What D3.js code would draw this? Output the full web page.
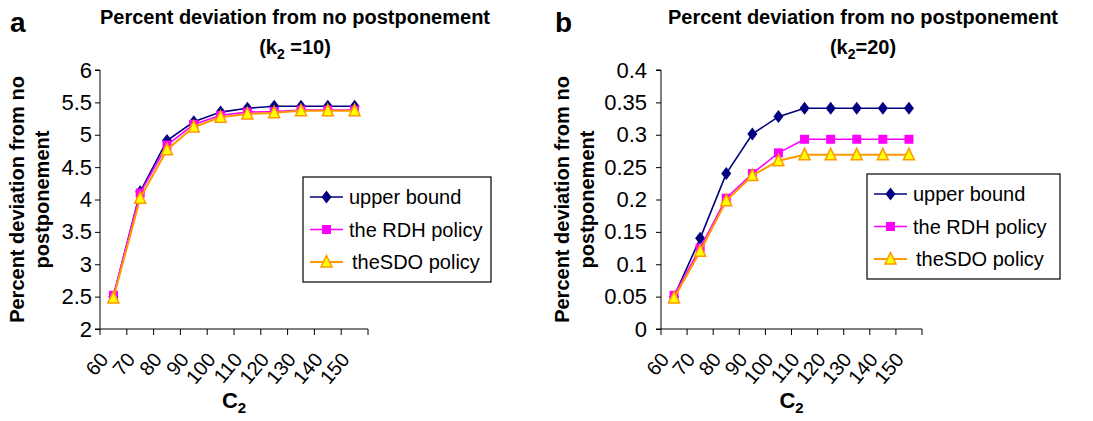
<!DOCTYPE html>
<html lang="en">
<head>
<meta charset="UTF-8">
<title>Percent deviation from no postponement</title>
<style>
  html, body { margin: 0; padding: 0; background: #fff; }
  svg text { font-family: "Liberation Sans", Arial, sans-serif; fill: #000; }
</style>
</head>
<body>
<script src="https://cdn.jsdelivr.net/npm/d3@7/dist/d3.min.js"></script>
<script>
// C2 categories on the x axis
var categories = ["60", "70", "80", "90", "100", "110", "120", "130", "140", "150"];
var seriesNames = ["upper bound", "the RDH policy", "theSDO policy"];

// panel a (k2 = 10)
var upperA = [2.50, 4.12, 4.91, 5.20, 5.35, 5.41, 5.44, 5.44, 5.44, 5.44];
var rdhA   = [2.52, 4.10, 4.84, 5.16, 5.30, 5.35, 5.36, 5.38, 5.38, 5.38];
var sdoA   = [2.48, 4.02, 4.77, 5.12, 5.27, 5.32, 5.34, 5.37, 5.37, 5.37];
var ticksA = [2, 2.5, 3, 3.5, 4, 4.5, 5, 5.5, 6];

// panel b (k2 = 20)
var upperB = [0.050, 0.140, 0.240, 0.301, 0.328, 0.341, 0.341, 0.341, 0.341, 0.341];
var rdhB   = [0.052, 0.125, 0.202, 0.240, 0.272, 0.293, 0.293, 0.293, 0.293, 0.293];
var sdoB   = [0.048, 0.120, 0.198, 0.237, 0.260, 0.269, 0.269, 0.269, 0.269, 0.269];
var ticksB = [0, 0.05, 0.1, 0.15, 0.2, 0.25, 0.3, 0.35, 0.4];

var W = 1093, H = 421;
var svg = d3.select("body").append("svg").attr("width", W).attr("height", H);

// styles of the three series
var styles = [
  { line: "#000080", width: 1.6, marker: "diamond" },
  { line: "#ff00ff", width: 1.6, marker: "square" },
  { line: "#ff9900", width: 2, marker: "triangle" }
];

function drawMarker(g, type, x, y) {
  if (type == "diamond") {
    g.append("path").attr("d", "M0,-6.5L5,0L0,6.5L-5,0Z")
      .attr("transform", "translate(" + x + "," + y + ")").attr("fill", "#000080");
  } else if (type == "square") {
    g.append("rect").attr("x", x - 4.5).attr("y", y - 4.5).attr("width", 9).attr("height", 9)
      .attr("fill", "#ff00ff");
  } else {
    g.append("path").attr("d", "M0,-6.5L5.5,5L-5.5,5Z")
      .attr("transform", "translate(" + x + "," + y + ")")
      .attr("fill", "#ffff00").attr("stroke", "#ff9900").attr("stroke-width", 1.5);
  }
}

function drawPanel(p) {
  var g = svg.append("g");
  var x = d3.scaleBand().domain(categories).range([p.x0, p.x1]);
  var y = d3.scaleLinear().domain([p.ticks[0], p.ticks[p.ticks.length - 1]]).range([p.y0, p.y1]);

  // panel letter
  g.append("text").attr("x", p.letterX).attr("y", 32)
    .style("font-size", "28px").style("font-weight", "bold").text(p.letter);

  // title, two lines
  var cx = p.titleX;
  g.append("text").attr("x", cx).attr("y", 24).attr("text-anchor", "middle")
    .style("font-size", "20px").style("font-weight", "bold")
    .text("Percent deviation from no postponement");
  var t2 = g.append("text").attr("x", cx).attr("y", 54).attr("text-anchor", "middle")
    .style("font-size", "20px").style("font-weight", "bold");
  t2.append("tspan").text("(k");
  t2.append("tspan").attr("dy", 5).style("font-size", "14px").text("2");
  t2.append("tspan").attr("dy", -5).text(p.k2);

  // y axis
  var yAxis = d3.axisLeft(y).tickValues(p.ticks).tickSize(5).tickPadding(p.pad)
    .tickFormat(function (d) { return String(d); });
  var ya = g.append("g").attr("transform", "translate(" + p.x0 + ",0)").call(yAxis);
  ya.select(".domain").attr("stroke", "#000").attr("d", "M-5," + p.y1 + "H0V" + p.y0 + "H-5");
  ya.selectAll("text").style("font-size", "22px").attr("fill", "#000")
    .style("font-family", "\"Liberation Sans\", Arial, sans-serif");

  // x axis: ticks on band edges, labels rotated
  var xa = g.append("g").attr("transform", "translate(0," + p.y0 + ")");
  xa.append("line").attr("x1", p.x0).attr("x2", p.x1).attr("stroke", "#000");
  var edges = categories.map(function (c) { return x(c); }).concat([p.x1]);
  xa.selectAll(".tk").data(edges).join("line").attr("class", "tk")
    .attr("x1", function (d) { return d; }).attr("x2", function (d) { return d; })
    .attr("y1", 0).attr("y2", 6).attr("stroke", "#000");
  xa.selectAll(".lb").data(categories).join("text").attr("class", "lb")
    .attr("text-anchor", "end").style("font-size", "20px")
    .attr("transform", function (d) {
      return "translate(" + (x(d) + x.bandwidth() / 2 - 4) + ",31) rotate(-50)";
    })
    .text(function (d) { return d; });

  // axis titles
  var yt = g.append("text").attr("transform", "translate(" + p.ytX + "," + ((p.y0 + p.y1) / 2) + ") rotate(-90)")
    .attr("text-anchor", "middle").style("font-size", "20px").style("font-weight", "bold");
  yt.append("tspan").attr("x", 0).attr("y", 0).text("Percent deviation from no");
  yt.append("tspan").attr("x", 0).attr("y", 25).text("postponement");

  var xt = g.append("text").attr("x", (p.x0 + p.x1) / 2).attr("y", 408)
    .attr("text-anchor", "middle").style("font-size", "22px").style("font-weight", "bold");
  xt.append("tspan").text("C");
  xt.append("tspan").attr("dy", 5).style("font-size", "15px").text("2");

  // series
  var line = d3.line()
    .x(function (d, i) { return x(categories[i]) + x.bandwidth() / 2; })
    .y(function (d) { return y(d); });
  p.series.forEach(function (s, k) {
    g.append("path").datum(s).attr("d", line).attr("fill", "none")
      .attr("stroke", styles[k].line).attr("stroke-width", styles[k].width);
    s.forEach(function (v, i) {
      drawMarker(g, styles[k].marker, x(categories[i]) + x.bandwidth() / 2, y(v));
    });
  });

  // legend
  var lg = g.append("g").attr("transform", "translate(" + p.legX + "," + p.legY + ")");
  lg.append("rect").attr("width", p.legW).attr("height", 105)
    .attr("fill", "#fff").attr("stroke", "#000").attr("stroke-width", 1.2);
  seriesNames.forEach(function (name, k) {
    var ly = 20 + k * 32.5;
    lg.append("line").attr("x1", 7).attr("x2", 40).attr("y1", ly).attr("y2", ly)
      .attr("stroke", styles[k].line).attr("stroke-width", styles[k].width);
    drawMarker(lg, styles[k].marker, 23.5, ly);
    lg.append("text").attr("x", k == 2 ? 49 : 46).attr("y", ly + 7)
      .style("font-size", "20px").text(name);
  });
}

drawPanel({
  letter: "a", letterX: 10, titleX: 295, k2: " =10)",
  x0: 100, x1: 368, y0: 329, y1: 70, ticks: ticksA, pad: 3,
  ytX: 24, legX: 303, legY: 177, legW: 188,
  series: [upperA, rdhA, sdoA]
});

drawPanel({
  letter: "b", letterX: 555, titleX: 863, k2: "=20)",
  x0: 661, x1: 922, y0: 329, y1: 70, ticks: ticksB, pad: 9,
  ytX: 569, legX: 867, legY: 174, legW: 193,
  series: [upperB, rdhB, sdoB]
});
</script>
</body>
</html>
